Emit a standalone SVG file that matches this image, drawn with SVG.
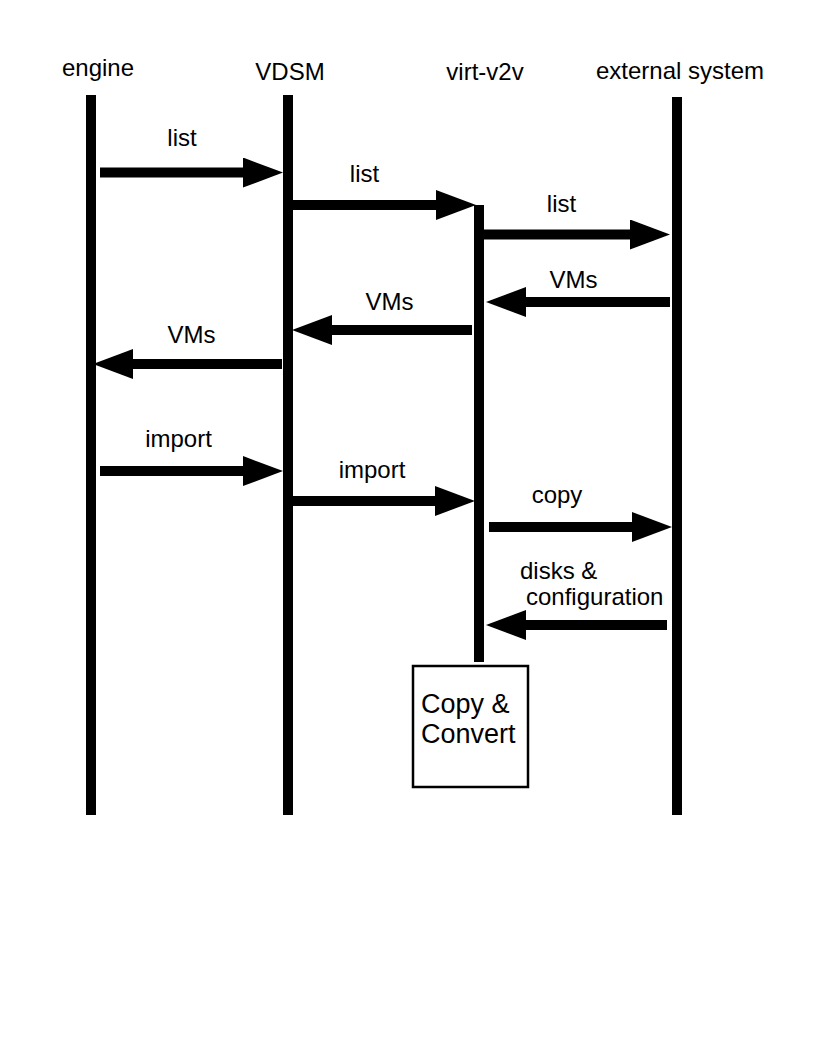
<svg xmlns="http://www.w3.org/2000/svg" width="816" height="1056" viewBox="0 0 816 1056">
<style>
.life{stroke:#000;stroke-width:10;fill:none}
.msg{stroke:#000;stroke-width:10;fill:none;marker-end:url(#head)}
text{font-family:"Liberation Sans",Arial,sans-serif;font-size:24px;fill:#000}
.mid{text-anchor:middle}
.box{fill:#fff;stroke:#000;stroke-width:2.5}
.boxt{font-size:27px}
</style>
<defs>
<marker id="head" markerUnits="userSpaceOnUse" markerWidth="40" markerHeight="30" viewBox="0 0 40 30" refX="0" refY="15" orient="auto">
<path d="M0,0 L40,15 L0,30 z" fill="#000"/>
</marker>
</defs>
<rect width="816" height="1056" fill="#fff"/>
<g id="engine">
<line class="life" x1="91" y1="95" x2="91" y2="815"/>
<text class="mid" x="98" y="76">engine</text>
</g>
<g id="vdsm">
<line class="life" x1="288" y1="95" x2="288" y2="815"/>
<text class="mid" x="290" y="80">VDSM</text>
</g>
<g id="virt-v2v">
<line class="life" x1="479" y1="205" x2="479" y2="662"/>
<text class="mid" x="485" y="80">virt-v2v</text>
</g>
<g id="external">
<line class="life" x1="677" y1="97" x2="677" y2="815"/>
<text class="mid" x="680" y="79">external system</text>
</g>
<g id="copy-convert">
<rect class="box" x="413" y="666" width="115" height="121"/>
<text class="boxt" x="421" y="713">Copy &amp;</text>
<text class="boxt" x="421" y="743">Convert</text>
</g>
<g id="connectors">
<line class="msg" x1="100" y1="172.5" x2="243" y2="172.5"/>
<line class="msg" x1="293" y1="205" x2="436" y2="205"/>
<line class="msg" x1="484" y1="234.5" x2="630" y2="234.5"/>
<line class="msg" x1="670" y1="302" x2="526" y2="302"/>
<line class="msg" x1="472" y1="330" x2="332" y2="330"/>
<line class="msg" x1="282" y1="364" x2="133" y2="364"/>
<line class="msg" x1="100" y1="471" x2="243" y2="471"/>
<line class="msg" x1="293" y1="501" x2="435" y2="501"/>
<line class="msg" x1="489" y1="527" x2="632" y2="527"/>
<line class="msg" x1="667" y1="625" x2="526" y2="625"/>
</g>
<g id="labels">
<text class="mid" x="182" y="146">list</text>
<text class="mid" x="364.5" y="182">list</text>
<text class="mid" x="561.5" y="212">list</text>
<text class="mid" x="573.5" y="288">VMs</text>
<text class="mid" x="389.5" y="310">VMs</text>
<text class="mid" x="191.5" y="343">VMs</text>
<text class="mid" x="178.5" y="447">import</text>
<text class="mid" x="372" y="478">import</text>
<text class="mid" x="557" y="503">copy</text>
<text x="520" y="579">disks &amp;</text>
<text x="526" y="605">configuration</text>
</g>
</svg>
